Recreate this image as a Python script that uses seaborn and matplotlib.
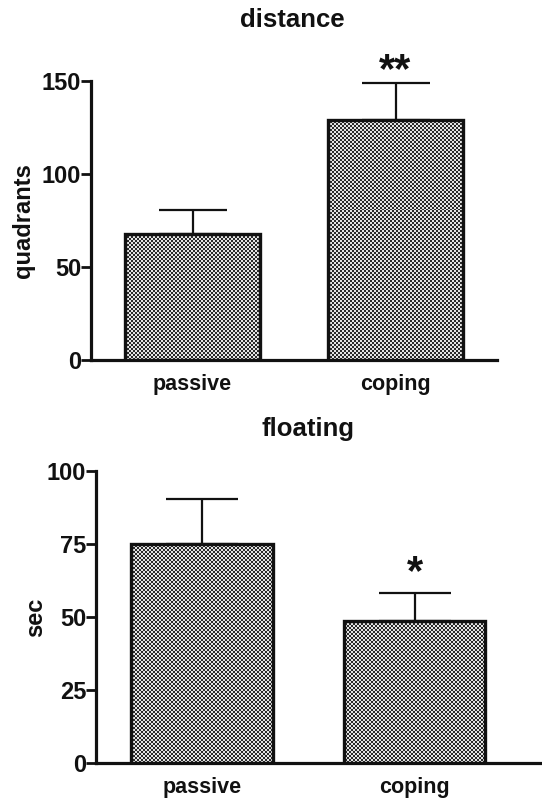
import numpy as np
import pandas as pd
import matplotlib
matplotlib.use("Agg")
import matplotlib.pyplot as plt
import seaborn as sns

sns.set_style("ticks")
plt.rcParams['font.family'] = ['Liberation Sans', 'DejaVu Sans']
plt.rcParams['font.weight'] = 'bold'
plt.rcParams['text.color'] = '#111111'
plt.rcParams['axes.labelcolor'] = '#111111'
plt.rcParams['xtick.color'] = '#111111'
plt.rcParams['ytick.color'] = '#111111'

groups = ['passive', 'coping']
distance_mean = [67.7, 129.0]
distance_sem = [13.0, 20.0]
floating_mean = [75.0, 48.7]
floating_sem = [15.2, 9.6]
distance_ticks = [0, 50, 100, 150]
floating_ticks = [0, 25, 50, 75, 100]
distance_stars = ['', '**']
floating_stars = ['', '*']

INK = '#111111'

fig = plt.figure(figsize=(5.42, 7.99), dpi=100)
ax1 = fig.add_axes([0.1679, 0.5494, 0.7491, 0.3492])
ax2 = fig.add_axes([0.1771, 0.0447, 0.8229, 0.3662])


def checker(ax):
    fig.canvas.draw()
    bb = ax.get_window_extent()
    ny, nx = int(np.ceil(bb.height / 2)), int(np.ceil(bb.width / 2))
    yy, xx = np.mgrid[0:ny, 0:nx]
    return ((yy + xx) % 2).astype(float)


def panel(ax, mean, sem, ticks, ylabel, title, stars, xright, capsize,
          star_off, title_x, title_pad, labelpad):
    df = pd.DataFrame({'group': groups, 'value': mean})
    sns.barplot(data=df, x='group', y='value', ax=ax, width=0.667,
                facecolor='none', edgecolor=INK, linewidth=2.4,
                errorbar=None, zorder=4)
    ax.errorbar(range(len(groups)), mean,
                yerr=[np.zeros(len(mean)), sem], fmt='none', ecolor=INK,
                elinewidth=1.6, capsize=capsize, capthick=1.6, zorder=2)
    ax.set_ylim(0, ticks[-1])
    ax.set_yticks(ticks)
    ax.set_xlim(-0.5, xright)
    pat = checker(ax)
    cmap = matplotlib.colors.ListedColormap(['#2a2a2a', '#e4e4e4'])
    for p in ax.patches:
        im = ax.imshow(pat, cmap=cmap, vmin=0, vmax=1,
                       extent=(0, 1, 0, 1), transform=ax.transAxes,
                       aspect='auto', interpolation='nearest', zorder=3)
        im.set_clip_path(p)
    ax.set_ylim(0, ticks[-1])
    ax.set_xlim(-0.5, xright)
    for i, s in enumerate(stars):
        if s:
            ax.annotate(s, xy=(i, mean[i] + sem[i]), xytext=(0, star_off),
                        textcoords='offset points', ha='center', va='bottom',
                        fontsize=30, fontweight='bold', color=INK,
                        annotation_clip=False)
    sns.despine(ax=ax)
    for sp in ['left', 'bottom']:
        ax.spines[sp].set_linewidth(2.3)
        ax.spines[sp].set_color(INK)
    ax.tick_params(axis='y', direction='out', length=7, width=2,
                   color=INK, labelsize=17, pad=0)
    ax.tick_params(axis='x', length=0, labelsize=15.5, pad=10)
    for lab in ax.get_yticklabels() + ax.get_xticklabels():
        lab.set_fontweight('bold')
    ax.set_xlabel('')
    ax.set_ylabel(ylabel, fontsize=17, fontweight='bold', labelpad=labelpad)
    ax.set_title(title, fontsize=18.5, fontweight='bold', x=title_x,
                 pad=title_pad)


panel(ax1, distance_mean, distance_sem, distance_ticks, 'quadrants',
      'distance', distance_stars, 1.5, 24.5, -6, 0.495, 39, 5)
panel(ax2, floating_mean, floating_sem, floating_ticks, 'sec',
      'floating', floating_stars, 1.6, 26, 0, 0.475, 25, 0)

fig.savefig('out.png', dpi=100)
